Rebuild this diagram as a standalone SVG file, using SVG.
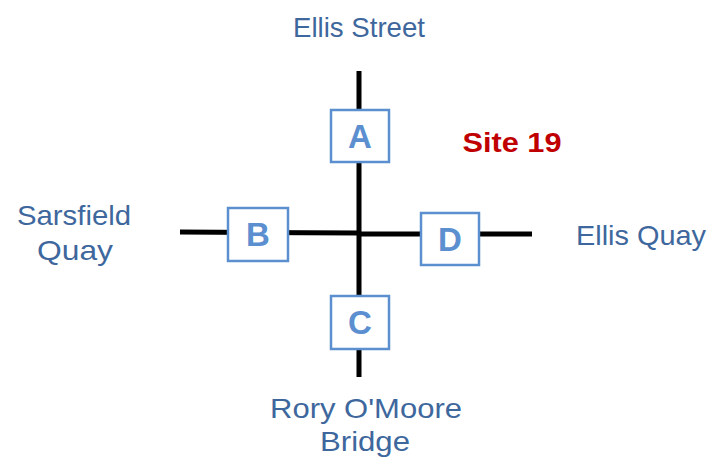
<svg xmlns="http://www.w3.org/2000/svg" width="710" height="458" viewBox="0 0 710 458">
<style>
.road{stroke:#000;stroke-width:5;fill:none}
.box rect{fill:#fff;stroke:#5B8FD0;stroke-width:2.5}
.box text{font-family:"Liberation Sans",Arial,sans-serif;font-weight:bold;font-size:33px;fill:#5B8FD0;text-anchor:middle}
.lbl{font-family:"Liberation Sans",Arial,sans-serif;font-size:28px;fill:#3E679D;text-anchor:middle}
.site{font-family:"Liberation Sans",Arial,sans-serif;font-weight:bold;font-size:28px;fill:#C00000;text-anchor:middle}
</style>
<rect width="710" height="458" fill="#fff"/>
<g id="connectors">
<line class="road" x1="359" y1="71" x2="359" y2="377"/>
<line class="road" x1="180" y1="232" x2="359" y2="233"/>
<line class="road" x1="357" y1="234" x2="532" y2="234"/>
</g>
<g id="A" class="box"><rect x="331" y="110" width="58" height="52"/><text x="360" y="148">A</text></g>
<g id="B" class="box"><rect x="228" y="208" width="60" height="53"/><text x="258" y="246">B</text></g>
<g id="D" class="box"><rect x="421" y="213" width="58" height="52"/><text x="450" y="251">D</text></g>
<g id="C" class="box"><rect x="331" y="296" width="58" height="53"/><text x="360" y="334">C</text></g>
<g id="labels">
<text class="lbl" x="359" y="37" textLength="132" lengthAdjust="spacingAndGlyphs">Ellis Street</text>
<text class="lbl" x="74" y="225" textLength="114" lengthAdjust="spacingAndGlyphs">Sarsfield</text>
<text class="lbl" x="75" y="260" textLength="76" lengthAdjust="spacingAndGlyphs">Quay</text>
<text class="lbl" x="641" y="245" textLength="130" lengthAdjust="spacingAndGlyphs">Ellis Quay</text>
<text class="lbl" x="366" y="418" textLength="192" lengthAdjust="spacingAndGlyphs">Rory O'Moore</text>
<text class="lbl" x="365" y="451" textLength="90" lengthAdjust="spacingAndGlyphs">Bridge</text>
<text class="site" x="512" y="152" textLength="99" lengthAdjust="spacingAndGlyphs">Site 19</text>
</g>
</svg>
